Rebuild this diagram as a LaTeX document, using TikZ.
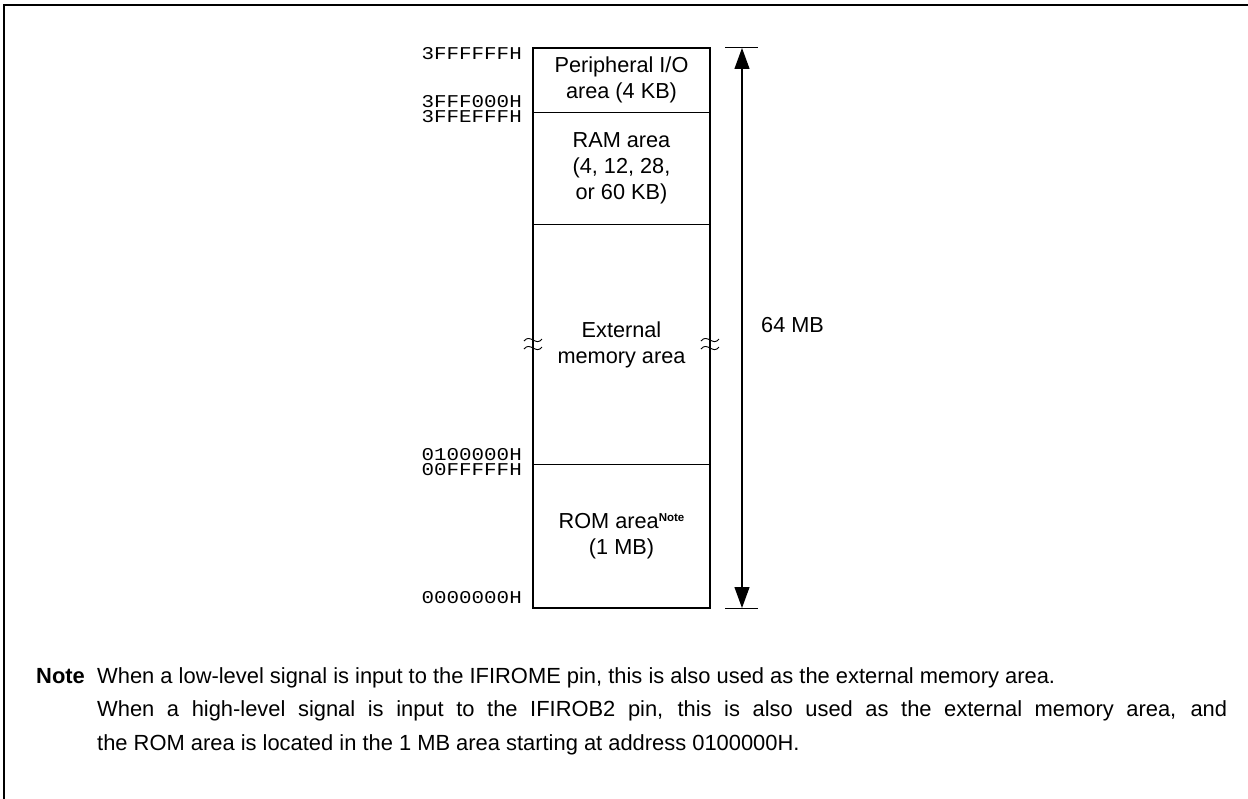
\documentclass[tikz,border=0pt]{standalone}
\usepackage{fontspec}
\setmainfont{Liberation Sans}
\newfontfamily\addrfont[FakeStretch=1.16]{Liberation Mono}
\usepackage{tikz}
\usetikzlibrary{arrows.meta,calc,positioning}
\def\MapWidth{177}
\def\MapHeight{560}

\tikzset{
	frameline/.style={line width=1.6pt},
	mapedge/.style={line width=2.4pt},
	divline/.style={line width=1pt},
	dimline/.style={line width=1.2pt,{Triangle[length=21pt,width=15pt]}-{Triangle[length=21pt,width=15pt]}},
	areatext/.style={font=\fontsize{21.7}{26}\selectfont,align=center,inner sep=0pt},
	addr/.style={font=\addrfont\fontsize{18}{18}\selectfont,anchor=mid east,inner sep=0pt,text height=11.5pt,text depth=0pt},
	notetext/.style={font=\fontsize{21.9}{26}\selectfont,anchor=base west,inner sep=0pt},
	squig/.pic={
		\draw[line width=0.9pt] (-9,-3) .. controls (-3,-11) and (3,3) .. (9,-5);
		\draw[line width=0.9pt] (-9,5) .. controls (-3,-3) and (3,11) .. (9,3);
	}
}

\begin{document}
\begin{tikzpicture}[x=1pt,y=-1pt]
			\useasboundingbox (0,0) rectangle (1248,799);
			% frame
			\coordinate (fa) at (4,799);
			\coordinate (fb) at (4,5);
			\coordinate (fc) at (1248,5);
			\draw[frameline] (fa) -- (fb) -- (fc);
			% 
			\coordinate (tl) at (533,48);
			\coordinate (tr) at ($(tl)+(\MapWidth,0)$);
			\coordinate (bl) at ($(tl)+(0,\MapHeight)$);
			\coordinate (br) at ($(tr)+(0,\MapHeight)$);
			% 
			\coordinate (pl) at ($(tl)!0.1143!(bl)$);
			\coordinate (pr) at ($(tr)!0.1143!(br)$);
			\coordinate (el) at ($(tl)!0.316!(bl)$);
			\coordinate (er) at ($(tr)!0.316!(br)$);
			\coordinate (rl) at ($(tl)!0.743!(bl)$);
			\coordinate (rr) at ($(tr)!0.743!(br)$);
			% 
			\draw[divline] (pl) -- (pr);
			\draw[divline] (el) -- (er);
			\draw[divline] (rl) -- (rr);
			\draw[mapedge] (tl) rectangle (br);
			% 
			\node[areatext] (pio) at ($(tl)!0.5!(pr)$) {Peripheral I/O\\area (4 KB)};
			\node[areatext] (ram) at ($(pl)!0.5!(er)$) {RAM area\\(4, 12, 28,\\or 60 KB)};
			\node[areatext] (ext) at ($(el)!0.5!(rr)$) {External\\memory area};
			\node[areatext] (rom) at ($(rl)!0.5!(br)$) {ROM area\raisebox{7pt}{\fontsize{11.5}{12}\selectfont\bfseries Note}\\(1 MB)};
			% 
			\pic at ($(el)!0.498!(rl)$) {squig};
			\pic at ($(er)!0.498!(rr)$) {squig};
			% 
			\node[addr] (a1) at (522,57) {3FFFFFFH};
			\node[addr] (a2) at (522,105) {3FFF000H};
			\node[addr] (a3) at (522,120) {3FFEFFFH};
			\node[addr] (a4) at (522,458) {0100000H};
			\node[addr] (a5) at (522,473) {00FFFFFH};
			\node[addr] (a6) at (522,601) {0000000H};
			% 
			\coordinate (dt) at (742,48);
			\coordinate (db) at (742,608);
			\coordinate (dtl) at (725,48);
			\coordinate (dtr) at (758,48);
			\coordinate (dbl) at (725,608);
			\coordinate (dbr) at (758,608);
			\draw[divline] (dtl) -- (dtr);
			\draw[divline] (dbl) -- (dbr);
			\draw[dimline] (dt) -- (db);
			\node[areatext,anchor=mid west] (size) at (761,330) {64 MB};
			% 
			\node[notetext] (nt) at (36,683) {\bfseries Note};
			\node[notetext] (n1) at (97,683) {When a low-level signal is input to the IFIROME pin, this is also used as the external memory area.};
			\node[notetext] (n2) at (97,716.5) {\makebox[1130pt][s]{When a high-level signal is input to the IFIROB2 pin, this is also used as the external memory area, and}};
			\node[notetext] (n3) at (97,750) {the ROM area is located in the 1 MB area starting at address 0100000H.};
		\end{tikzpicture}
\end{document}
